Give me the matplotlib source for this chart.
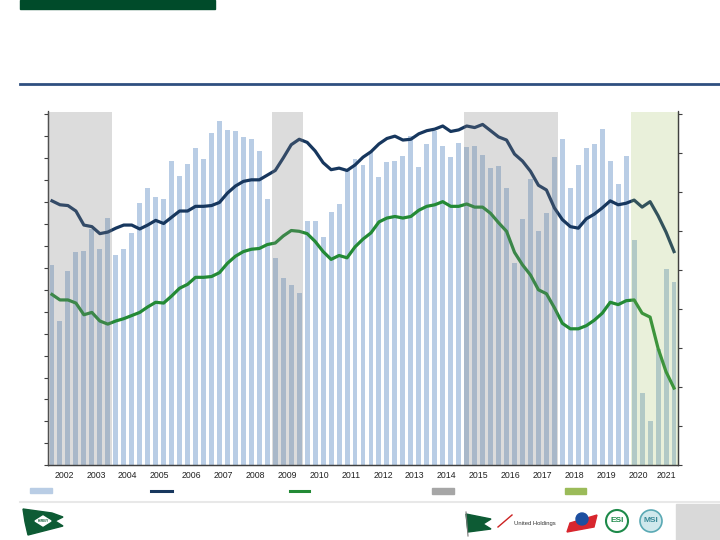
"""Quarterly bars with two rate lines and shaded periods (Kirby-style slide)."""
import matplotlib
matplotlib.use("Agg")
import matplotlib.pyplot as plt
from matplotlib.patches import Rectangle, Polygon, Circle
from matplotlib.lines import Line2D

plt.rcParams["font.family"] = ["Liberation Sans", "DejaVu Sans"]

# quarters 2002Q1 .. 2021Q3
years = list(range(2002, 2022))
n_quarters = 79

bar_vals = [91.3, 65.9, 88.7, 97.4, 97.7, 107.6, 98.5, 112.9,
            95.9, 98.6, 105.7, 119.6, 126.3, 122.2, 121.5, 138.7,
            131.9, 137.2, 144.6, 139.6, 151.6, 156.9, 152.8, 152.2,
            149.5, 148.6, 143.4, 121.5, 94.5, 85.4, 82.0, 78.5,
            111.5, 111.4, 103.9, 115.6, 119.1, 134.5, 139.6, 136.9,
            142.7, 131.4, 138.2, 138.8, 141.1, 150.1, 136.0, 146.6,
            152.5, 145.4, 140.5, 146.9, 145.1, 145.5, 141.6, 135.5,
            136.4, 126.4, 92.3, 112.3, 130.5, 106.8, 114.9, 140.5,
            148.7, 126.4, 136.9, 144.5, 146.3, 153.1, 138.7, 128.2,
            141.1, 102.8, 32.8, 20.3, 53.0, 89.5, 83.7]

blue_line = [88.9, 88.4, 88.3, 87.6, 85.8, 85.6, 84.7, 84.9,
             85.4, 85.8, 85.8, 85.3, 85.8, 86.4, 86.0, 86.8,
             87.6, 87.6, 88.2, 88.2, 88.3, 88.7, 89.9, 90.8,
             91.4, 91.6, 91.6, 92.2, 92.8, 94.4, 96.1, 96.8,
             96.4, 95.3, 93.8, 92.9, 93.1, 92.8, 93.5, 94.5,
             95.2, 96.2, 96.9, 97.2, 96.7, 96.8, 97.5, 97.9,
             98.1, 98.5, 97.8, 98.0, 98.5, 98.3, 98.7, 97.9,
             97.1, 96.7, 94.9, 94.0, 92.7, 90.9, 90.3, 88.0,
             86.5, 85.6, 85.4, 86.6, 87.2, 88.0, 88.9, 88.4,
             88.6, 89.0, 88.1, 88.8, 87.0, 84.9, 82.4]

green_line = [76.9, 76.2, 76.2, 75.8, 74.3, 74.6, 73.5, 73.1,
              73.5, 73.8, 74.2, 74.6, 75.3, 75.9, 75.8, 76.7,
              77.7, 78.2, 79.1, 79.1, 79.2, 79.7, 80.9, 81.8,
              82.4, 82.7, 82.8, 83.3, 83.5, 84.4, 85.1, 85.0,
              84.7, 83.7, 82.4, 81.4, 81.9, 81.6, 83.0, 84.0,
              84.8, 86.2, 86.7, 86.9, 86.7, 86.9, 87.7, 88.2,
              88.4, 88.8, 88.2, 88.2, 88.5, 88.1, 88.1, 87.3,
              86.1, 85.0, 82.3, 80.7, 79.4, 77.5, 77.0, 75.2,
              73.2, 72.5, 72.5, 72.9, 73.6, 74.5, 75.9, 75.6,
              76.1, 76.2, 74.5, 74.0, 70.0, 67.0, 64.9]

# shaded periods as (first quarter index, last quarter index)
gray_periods = [(0, 7), (28, 31), (52, 63)]
green_period = (73, 78)

BAR_C = "#b9cde5"
NAVY = "#17375e"
GREEN = "#238a35"
SHADE_GRAY = "#808080"
LEGEND_GRAY = "#a6a6a6"
SHADE_GREEN = "#9bbb59"

fig = plt.figure(figsize=(7.2, 5.4), dpi=100)
W, H = 720, 540

# slide decorations in pixel coordinates
bg = fig.add_axes([0, 0, 1, 1])
bg.set_xlim(0, W)
bg.set_ylim(H, 0)
bg.axis("off")
bg.add_patch(Rectangle((20, 0), 195, 8.5, color="#004b2a"))
bg.plot([20, 720], [83.5, 83.5], color="#2f4f80", lw=2.0)
bg.plot([20, 720], [502, 502], color="#e8e8e8", lw=1.5)
bg.add_patch(Rectangle((676, 504), 44, 36, color="#d9d9d9"))
# legend swatches (legend text is blank in the source)
bg.add_patch(Rectangle((30, 488), 22, 5, color=BAR_C))
bg.add_line(Line2D([151, 172], [490.5, 490.5], color=NAVY, lw=2.2))
bg.add_line(Line2D([290, 309], [491, 491], color=GREEN, lw=2.2))
bg.add_patch(Rectangle((432, 488), 22, 5.5, color=LEGEND_GRAY))
bg.add_patch(Rectangle((565, 488), 21, 5.5, color=SHADE_GREEN))
# logos, roughly
bg.add_patch(Polygon([(23, 509), (52, 513), (63, 517), (55, 521), (63, 526),
                      (28, 535), (25, 522)], color="#0d5b34"))
bg.add_patch(Polygon([(35, 521), (43, 516), (51, 521), (43, 526)],
                     color="white"))
bg.text(43, 521.5, "KIRBY", fontsize=2.6, color="#0d5b34", ha="center",
        va="center", weight="bold")
bg.add_patch(Polygon([(466, 514), (491, 519), (483, 524), (491, 529),
                      (468, 532)], color="#0d5b34"))
bg.plot([466, 468], [512, 536], color="#777777", lw=0.8)
bg.plot([498, 512], [527, 515], color="#cc2222", lw=1.0)
bg.text(514, 524, "United Holdings", fontsize=4.2, color="#333333",
        va="center", family=["Liberation Sans Narrow", "Liberation Sans"])
bg.add_patch(Polygon([(570, 523), (597, 515), (594, 527), (567, 532)],
                     color="#d8262e"))
bg.add_patch(Circle((582, 519), 6, color="#1d4fa0"))
bg.add_patch(Circle((617, 521), 11, fc="white", ec="#1e8a4a", lw=1.5))
bg.text(617, 521, "ESI", fontsize=6, color="#1e8a4a", ha="center",
        va="center", weight="bold")
bg.add_patch(Circle((651, 521), 11, fc="#cfe8ec", ec="#5aa9b4", lw=1.2))
bg.text(651, 521, "MSI", fontsize=6, color="#3a8a98", ha="center",
        va="center", weight="bold")

# main chart
ax = fig.add_axes([48 / W, 1 - 465.3 / H, 630 / W, (465.3 - 111.5) / H])
ax2 = ax.twinx()

x = list(range(n_quarters))
ax.bar(x, bar_vals, width=0.62, color=BAR_C, zorder=2)
ax.set_ylim(0, 160 + (114.3 - 111.5) * 160 / 351)
ax.set_yticks(range(0, 161, 10))
ax.set_xlim(-0.5, n_quarters - 0.5)

ax2.plot(x, blue_line, color=NAVY, lw=2.3, zorder=3, solid_joinstyle="round")
ax2.plot(x, green_line, color=GREEN, lw=2.3, zorder=3, solid_joinstyle="round")
ax2.set_ylim(55, 100 + (114.3 - 111.5) * 45 / 351)
ax2.set_yticks(range(55, 101, 5))

for k0, k1 in gray_periods:
    left = -0.5 if k0 == 0 else k0 - 0.35
    ax2.axvspan(left, k1 + 0.5, color=SHADE_GRAY, alpha=0.27, lw=0, zorder=5)
ax2.axvspan(green_period[0] - 0.35, n_quarters - 0.5, color=SHADE_GREEN,
            alpha=0.22, lw=0, zorder=5)

# year labels at the middle of each year's quarters
year_pos = []
for i, yr in enumerate(years):
    qs = [q for q in range(i * 4, i * 4 + 4) if q < n_quarters]
    year_pos.append(sum(qs) / len(qs))
ax.set_xticks(year_pos)
ax.set_xticklabels([str(y) for y in years], fontsize=6.3, color="#222222")
ax.tick_params(axis="x", length=0, pad=4)
ax.tick_params(axis="y", direction="out", length=3, width=0.8,
               color="#404040", labelleft=False)
ax2.tick_params(axis="y", direction="out", length=3, width=0.8,
                color="#404040", labelright=False)

for a in (ax, ax2):
    a.spines["top"].set_visible(False)
    for s in ("left", "right", "bottom"):
        a.spines[s].set_color("#404040")
        a.spines[s].set_linewidth(0.9)
    a.patch.set_alpha(0)

fig.savefig("out.png", dpi=100)
